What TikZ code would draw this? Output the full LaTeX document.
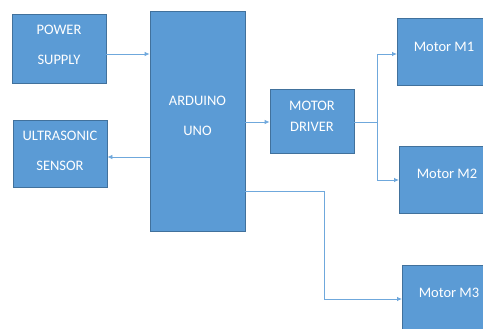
\documentclass[tikz,border=0pt]{standalone}
\usepackage{fontspec}
\setmainfont{Carlito}
\usetikzlibrary{arrows.meta}
\definecolor{boxfill}{HTML}{5B9BD5}
\definecolor{boxline}{HTML}{41719C}
\definecolor{wire}{HTML}{6FA8DC}
\tikzset{
  blk/.style={draw=boxline, fill=boxfill, line width=0.8pt, inner sep=0pt},
  txt/.style={text=white, font=\fontsize{14.5}{30}\selectfont, align=center, inner sep=0pt},
  txtn/.style={txt, font=\fontsize{14.5}{21}\selectfont},
  wirearrow/.style={draw=wire, line width=0.8pt, -{Latex[length=5pt,width=4.5pt]}},
  wireline/.style={draw=wire, line width=0.8pt}
}
\begin{document}
\begin{tikzpicture}[x=1pt,y=-1pt]
\useasboundingbox (0,0) rectangle (483,329);
\clip (0,0) rectangle (483,329);
% boxes
\node[blk, minimum width=94pt, minimum height=69pt] (ps) at (59,48.5) {};
\node[blk, minimum width=94pt, minimum height=67pt] (us) at (60,153.5) {};
\node[blk, minimum width=95pt, minimum height=220pt] (ard) at (197.5,121) {};
\node[blk, minimum width=84pt, minimum height=64pt] (md) at (312,121) {};
\node[blk, minimum width=100pt, minimum height=67pt, anchor=north west] (m1) at (397,18) {};
\node[blk, minimum width=100pt, minimum height=67pt, anchor=north west] (m2) at (399,146) {};
\node[blk, minimum width=100pt, minimum height=67pt, anchor=north west] (m3) at (402,265) {};
% texts
\node[txt] (tps) at (59,45) {POWER\\SUPPLY};
\node[txt] (tus) at (60,151) {ULTRASONIC\\SENSOR};
\node[txt] (tard) at (197.5,116) {ARDUINO\\UNO};
\node[txtn] (tmd) at (312,116.5) {MOTOR\\DRIVER};
\node[txt] (tm1) at (444,47) {Motor M1};
\node[txt] (tm2) at (447,174) {Motor M2};
\node[txt] (tm3) at (449,293) {Motor M3};
% connectors
\coordinate (br) at (377,122);
\draw[wirearrow] (ps.east |- 0,54) -- (ard.west |- 0,54);
\draw[wirearrow] (ard.west |- 0,157) -- (us.east |- 0,157);
\draw[wirearrow] (ard.east |- 0,122) -- (md.west |- 0,122);
\draw[wireline] (md.east |- 0,122) -- (br);
\draw[wirearrow] (br) -- (377,54) -- (m1.west |- 0,54);
\draw[wirearrow] (br) -- (377,180) -- (m2.west |- 0,180);
\draw[wirearrow] (ard.east |- 0,191) -- (324,191) -- (324,299) -- (m3.west |- 0,299);
\end{tikzpicture}
\end{document}
